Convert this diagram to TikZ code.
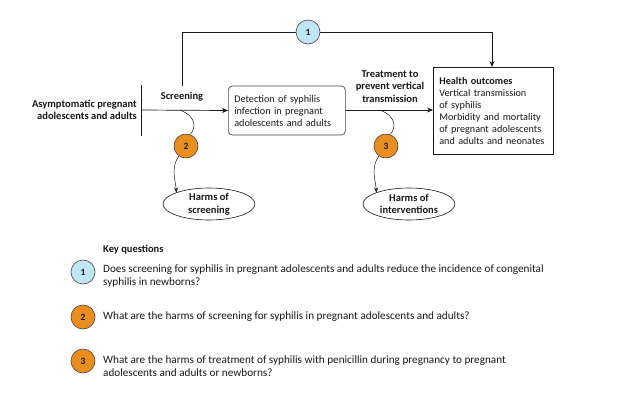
\documentclass[tikz,border=0pt]{standalone}
\usepackage{fontspec}
\setmainfont{Carlito}
\usetikzlibrary{arrows.meta,shapes.geometric}
\definecolor{ink}{HTML}{1A1718}
\definecolor{kqblue}{HTML}{BFE6F6}
\definecolor{kqorange}{HTML}{E88D1E}
\begin{document}
\begin{tikzpicture}[x=1pt,y=-1pt,
  every node/.style={text=ink,font=\fontsize{10.2}{12}\selectfont,inner sep=0pt},
  lbl/.style={font=\fontsize{10.5}{12.5}\selectfont\bfseries},
  kq/.style={circle,draw=ink!80,line width=0.6pt,minimum size=24pt,font=\fontsize{9.5}{10}\selectfont\bfseries},
  kqb/.style={kq,fill=kqblue},
  kqo/.style={kq,fill=kqorange},
  conn/.style={draw=ink,line width=0.7pt},
  arr/.style={conn,-{Stealth[length=6pt,width=5pt]}},
  carr/.style={draw=ink,line width=0.5pt,-{Stealth[length=5pt,width=4pt]}},
  curv/.style={draw=ink,line width=0.5pt},
  harm/.style={ellipse,draw=ink,line width=0.6pt,minimum width=92pt,minimum height=32pt,align=center,font=\fontsize{10.5}{12.5}\selectfont\bfseries},
  qtext/.style={anchor=west,align=left,font=\fontsize{11.2}{13}\selectfont}
]
\useasboundingbox (0,0) rectangle (624,400);
% left population
\node[lbl,anchor=east,align=right] (pop) at (137,110) {Asymptomatic pregnant\\adolescents and adults};
\coordinate (bartop) at (141,85);
\coordinate (barbot) at (141,136);
\coordinate (barmid) at (141,110);
\draw[conn] (bartop) -- (barbot);
% detection box
\node[draw=ink!80,line width=0.7pt,rounded corners=4pt,minimum width=117pt,minimum height=49pt,text width=105pt,align=left,anchor=west] (det) at (228,110.5) {Detection of syphilis\\infection in pregnant\\adolescents and adults};
\draw[arr] (barmid) -- (det.west);
\node[lbl] (scr) at (182,97) {Screening};
% health outcomes
\node[draw=ink,line width=0.7pt,minimum width=120pt,minimum height=87pt,text width=108pt,align=left,anchor=north west] (ho) at (433,67) {\textbf{Health outcomes}\\Vertical transmission\\of syphilis\\Morbidity and mortality\\of pregnant adolescents\\and adults and neonates};
\draw[arr] (det.east |- barmid) -- (ho.west |- barmid);
\node[lbl,align=center] (trt) at (390,86.5) {Treatment to\\prevent vertical\\transmission};
% overarching KQ1
\coordinate (topstart) at (182,86);
\coordinate (topleft) at (182,32);
\coordinate (topright) at (492,32);
\draw[arr] (topstart) -- (topleft) -- (topright) -- (topright |- ho.north);
\node[kqb] (k1) at (308,32) {1};
% KQ2
\node[kqo] (k2) at (186,146) {2};
\node[harm] (h2) at (209,204) {Harms of\\screening};
\coordinate (s2) at (180,110);
\draw[curv] (s2) .. controls (197,117) and (196,128) .. (k2.70);
\draw[carr] (k2.235) .. controls (170,168) and (176,182) .. (h2.north west);
% KQ3
\node[kqo] (k3) at (386,146) {3};
\node[harm] (h3) at (409,204) {Harms of\\interventions};
\coordinate (s3) at (380,110);
\draw[curv] (s3) .. controls (397,117) and (396,128) .. (k3.70);
\draw[carr] (k3.235) .. controls (370,168) and (376,182) .. (h3.north west);
% key questions
\node[lbl,anchor=west] (kqt) at (103,250) {Key questions};
\node[kqb] (q1) at (83,272) {1};
\node[qtext] (t1) at (103,276.5) {Does screening for syphilis in pregnant adolescents and adults reduce the incidence of congenital\\syphilis in newborns?};
\node[kqo] (q2) at (83,317) {2};
\node[qtext] (t2) at (103,317) {What are the harms of screening for syphilis in pregnant adolescents and adults?};
\node[kqo] (q3) at (83,361) {3};
\node[qtext] (t3) at (103,366) {What are the harms of treatment of syphilis with penicillin during pregnancy to pregnant\\adolescents and adults or newborns?};
\end{tikzpicture}
\end{document}
